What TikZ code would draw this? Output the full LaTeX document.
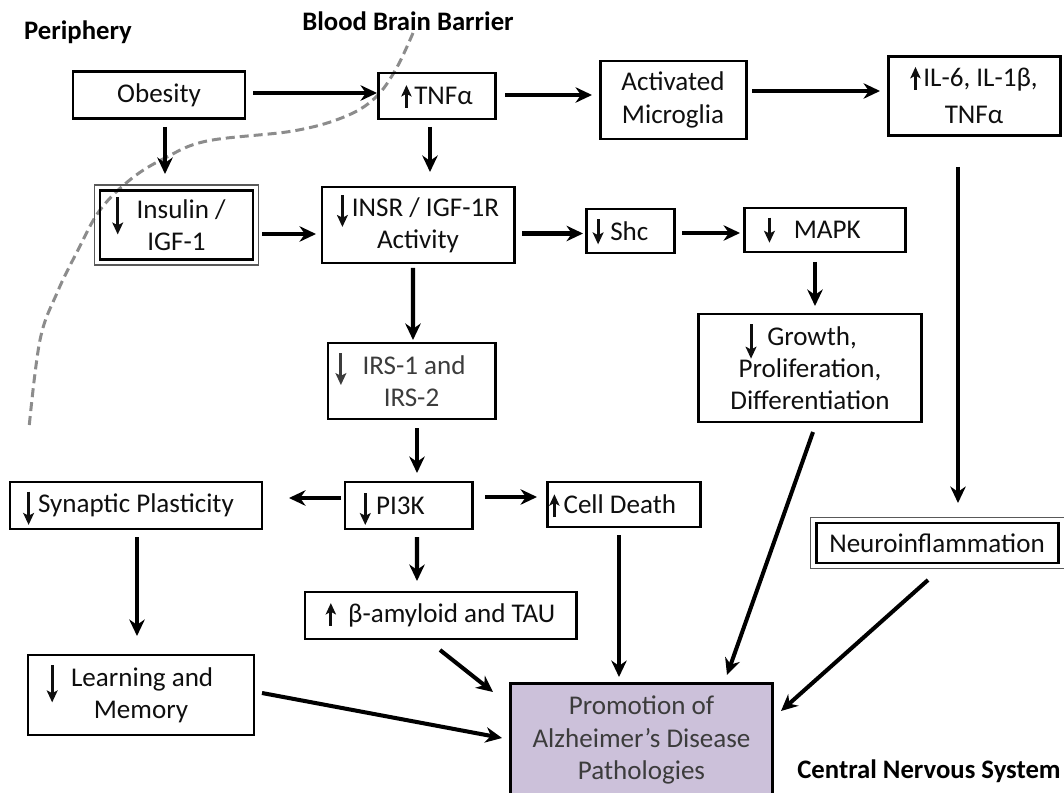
\documentclass[tikz,border=0pt]{standalone}
\usepackage{fontspec}
\setmainfont{Carlito}
\usepackage{graphicx}
\usetikzlibrary{arrows.meta,calc}
\newdimen\pxu \pxu=0.02cm
\definecolor{promfill}{RGB}{204,193,218}
\definecolor{dashgray}{RGB}{140,140,140}
\definecolor{txt}{RGB}{15,15,15}
\definecolor{txtb}{RGB}{60,60,60}
\newcommand\dnar[1][0.4]{\smash{\tikz[baseline=0pt,x=1em,y=1em]\draw[line width=0.11em,-{Stealth[length=0.44em,width=0.4em,inset=0.1em]}] (0,0.78) -- (0,-#1);}}
\newcommand\upar{\smash{\tikz[baseline=0pt,x=1em,y=1em]\draw[line width=0.11em,-{Stealth[length=0.42em,width=0.38em,inset=0.1em]}] (0,-0.12) -- (0,0.72);}}
\begin{document}
\begin{tikzpicture}[x=0.02cm,y=-0.02cm,
  box/.style={draw, line width=1.7pt, inner sep=0pt, align=center,
    font=\fontsize{15.4}{18.3}\selectfont, text=txt},
  arr/.style={line width=2.3pt, -{Stealth[length=0.33cm,width=0.31cm]}},
  lbl/.style={font=\fontsize{15.2}{17}\selectfont\bfseries, text=black},
  outerline/.style={line width=0.9pt, draw=black!65}]
\useasboundingbox (0,0) rectangle (1064,793);

% blood brain barrier
\draw[dashgray, line width=0.06cm, dash pattern=on 0.18cm off 0.1cm]
  plot[smooth, tension=0.6] coordinates {(413,33) (396,69) (375,98) (344,117) (293,131) (207,141) (165,158) (131,179) (100,210) (78,250) (57,293) (40,340) (29,428)};

% labels
\node[lbl] (peri) at (78,32) {Periphery};
\node[lbl] (bbb) at (408,21) {Blood Brain Barrier};
\node[lbl] (cns) at (929,771) {Central Nervous System};

% boxes
\node[box, minimum width=172\pxu, minimum height=47\pxu] (obes) at (159,95) {Obesity};
\node[box, minimum width=117\pxu, minimum height=46\pxu] (tnf) at (437,96) {\upar\hspace{0.1em}TNFα};
\node[box, minimum width=146\pxu, minimum height=78\pxu] (micro) at (673,100) {Activated\\Microglia};
\node[box, minimum width=172\pxu, minimum height=79\pxu] (il) at (974,96) {\upar\hspace{0.1em}IL-6, IL-1β,\\[3pt]TNFα};
\node[box, minimum width=153\pxu, minimum height=69\pxu] (ins) at (176.5,225) {\dnar[0.6]\hspace{0.5em}Insulin /\hspace*{0.3cm}\\IGF-1};
\draw[outerline] ($(ins.north west)+(-4,-4)$) rectangle ($(ins.south east)+(4,4)$);
\node[box, minimum width=192\pxu, minimum height=76\pxu] (insr) at (418,225) {\dnar\hspace{0.15em}INSR / IGF-1R\\Activity};
\node[box, minimum width=88\pxu, minimum height=44\pxu] (shc) at (630,231) {\dnar[0.15]\hspace{0.25em}Shc\hspace*{0.7em}};
\node[box, minimum width=161\pxu, minimum height=44\pxu] (mapk) at (824.5,230) {\dnar[0.15]\hspace{0.7em}MAPK\hspace*{0.9em}};
\node[box, minimum width=223\pxu, minimum height=108\pxu] (grow) at (810,368) {\dnar[0.5]\hspace{0.4em}Growth,\hspace*{0.35cm}\\Proliferation,\\Differentiation};
\node[box, minimum width=167\pxu, minimum height=76\pxu, text=txtb] (irs) at (411.5,381) {\dnar\hspace{0.6em}IRS-1 and\hspace*{0.44cm}\\IRS-2};
\node[box, minimum width=252\pxu, minimum height=47\pxu] (syn) at (136,505.5) {\dnar[0.45]\hspace{0.15em}Synaptic Plasticity\hspace*{0.3cm}};
\node[box, minimum width=127\pxu, minimum height=47\pxu] (pi3k) at (408.5,505.5) {\dnar\hspace{0.2em}PI3K\hspace*{1.2em}};
\node[box, minimum width=153\pxu, minimum height=45\pxu] (cell) at (623.5,504.5) {\upar\hspace{0.15em}Cell Death\hspace*{0.8em}};
\node[box, minimum width=242\pxu, minimum height=40\pxu] (neuro) at (937,543) {Neuroinflammation};
\draw[outerline] ($(neuro.north west)+(-4,-4)$) rectangle ($(neuro.south east)+(5,4)$);
\node[box, minimum width=271\pxu, minimum height=47\pxu] (beta) at (440.5,615.5) {\upar\hspace{0.45em}β-amyloid and TAU};
\node[box, minimum width=226\pxu, minimum height=80\pxu] (learn) at (141,695) {\dnar[0.6]\hspace{0.5em}Learning and\hspace*{0.44cm}\\Memory};
\node[box, draw=none, fill=promfill, text=txtb, minimum width=259\pxu, minimum height=110\pxu] (prom) at (641.5,740) {Promotion of\\Alzheimer’s Disease\\Pathologies};
\draw[line width=1.7pt] (prom.south west) -- (prom.north west) -- (prom.north east) -- (prom.south east);

% connectors
\draw[arr] ($(obes)+(94,-2)$) -- ($(tnf)+(-60,-3)$);
\draw[arr] ($(tnf)+(68,-1)$) -- ($(micro)+(-81,-5)$);
\draw[arr] ($(micro)+(79,-9)$) -- ($(il)+(-94,-5)$);
\draw[arr] ($(obes)+(6,32)$) -- ($(ins)+(-11.5,-51)$);
\draw[arr] ($(tnf)+(-7,31)$) -- ($(insr)+(12,-53)$);
\draw[arr] ($(ins)+(85.5,9)$) -- ($(insr)+(-102,9)$);
\draw[arr] ($(insr)+(104,8.5)$) -- ($(shc)+(-47,2.5)$);
\draw[arr] ($(shc)+(52,2)$) -- ($(mapk)+(-84.5,3)$);
\draw[arr] ($(mapk)+(-9.5,32)$) -- ($(grow)+(5,-62)$);
\draw[arr] ($(insr)+(-5,43)$) -- ($(irs)+(1.5,-41)$);
\draw[arr] ($(irs)+(5.5,47)$) -- ($(pi3k)+(8.5,-32.5)$);
\draw[arr] ($(pi3k)+(-67.5,-7.5)$) -- ($(syn)+(153,-7.5)$);
\draw[arr] ($(pi3k)+(76.5,-8.5)$) -- ($(cell)+(-86.5,-7.5)$);
\draw[arr] ($(pi3k)+(8.5,31.5)$) -- ($(beta)+(-23.5,-34.5)$);
\draw[arr] ($(syn)+(1,31.5)$) -- ($(learn)+(-4,-59)$);
\draw[arr] ($(il)+(-16,71)$) -- ($(neuro)+(21,-40)$);
\draw[arr] ($(beta)+(-0.5,34.5)$) -- ($(prom)+(-148.5,-48)$);
\draw[arr] ($(learn)+(121,-2)$) -- ($(prom)+(-139.5,-2)$);
\draw[arr] ($(cell)+(-4.5,30.5)$) -- ($(prom)+(-22.5,-63)$);
\draw[arr] ($(grow)+(3,64)$) -- ($(prom)+(85.5,-65)$);
\draw[arr] ($(neuro)+(-9,37)$) -- ($(prom)+(139.5,-29)$);
\end{tikzpicture}
\end{document}
